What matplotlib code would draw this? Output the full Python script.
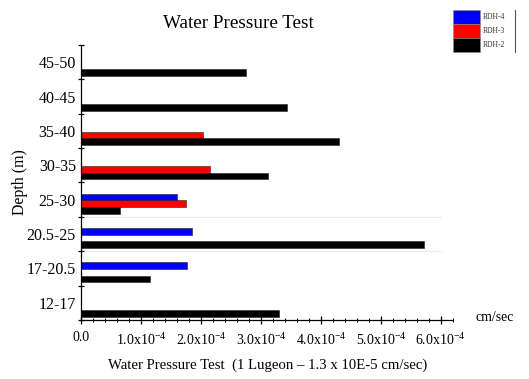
import matplotlib
matplotlib.use("Agg")
import matplotlib.pyplot as plt
from matplotlib.patches import Rectangle
import numpy as np

plt.rcParams['font.family'] = 'Liberation Serif'
plt.rcParams['mathtext.fontset'] = 'custom'
plt.rcParams['mathtext.rm'] = 'Liberation Serif'

# depth intervals, bottom to top
depths = ['12-17', '17-20.5', '20.5-25', '25-30', '30-35', '35-40', '40-45', '45-50']

# permeability (cm/sec), None where the hole was not tested
rdh2 = [3.30e-4, 1.15e-4, 5.72e-4, 0.64e-4, 3.12e-4, 4.30e-4, 3.43e-4, 2.75e-4]
rdh3 = [None, None, None, 1.74e-4, 2.15e-4, 2.03e-4, None, None]
rdh4 = [None, 1.76e-4, 1.85e-4, 1.60e-4, None, None, None, None]

series = [('RDH-4', rdh4, '#0000ff', 0.075),
          ('RDH-3', rdh3, '#ff0000', -0.12),
          ('RDH-2', rdh2, '#000000', -0.31)]

xticks = [0, 1e-4, 2e-4, 3e-4, 4e-4, 5e-4, 6e-4]
xticklabels = ['0.0', '1.0x10$^{-4}$', '2.0x10$^{-4}$', '3.0x10$^{-4}$',
               '4.0x10$^{-4}$', '5.0x10$^{-4}$', '6.0x10$^{-4}$']

fig = plt.figure(figsize=(5.29, 3.79), dpi=100)
ax = fig.add_axes([0.154, 0.156, 0.7017, 0.725])

pos = np.arange(len(depths))
for name, vals, col, off in series:
    for i, v in enumerate(vals):
        if v is None:
            continue
        ax.barh(pos[i] + off, v, height=0.2, color=col, edgecolor='#222222', linewidth=0.4)

# faint scan lines
for yl in [1.5, 2.5]:
    ax.plot([0, 6e-4], [yl, yl], color='#ececec', linewidth=0.8, zorder=0)

ax.set_xlim(0, 6.2e-4)
ax.set_ylim(-0.5, len(depths) - 0.5)

ax.set_xticks(xticks)
ax.set_xticklabels(xticklabels, fontsize=10)
ax.set_xticks(np.arange(0, 6.21e-4, 0.2e-4), minor=True)
ax.tick_params(axis='x', which='major', direction='inout', length=6, width=0.9, pad=5)
ax.tick_params(axis='x', which='minor', direction='inout', length=3, width=0.7)

ax.set_yticks(np.arange(-0.5, len(depths), 1.0))
ax.set_yticklabels([])
ax.set_yticks(pos, minor=True)
ax.set_yticklabels(depths, minor=True, fontsize=11.5)
ax.tick_params(axis='y', which='major', direction='inout', length=5, width=0.9)
ax.tick_params(axis='y', which='minor', length=0, pad=4)

for s in ['top', 'right']:
    ax.spines[s].set_visible(False)
for s in ['left', 'bottom']:
    ax.spines[s].set_linewidth(0.9)

fig.text(0.45, 0.937, 'Water Pressure Test', ha='center', va='center', fontsize=13.8)
fig.text(0.505, 0.035, 'Water Pressure Test  (1 Lugeon \u2013 1.3 x 10E-5 cm/sec)',
         ha='center', va='center', fontsize=10.6)
fig.text(0.038, 0.52, 'Depth (m)', rotation=90, ha='center', va='center', fontsize=11.4)
fig.text(0.898, 0.163, 'cm/sec', ha='left', va='center', fontsize=10)

# legend box, top right
W, H = 529.0, 379.0
x0, y_top, pw, ph = 453, 10, 27, 14
for k, (name, vals, col, off) in enumerate(series):
    yb = y_top + ph * (k + 1)
    fig.patches.append(Rectangle((x0 / W, 1 - yb / H), pw / W, ph / H,
                                 transform=fig.transFigure, facecolor=col,
                                 edgecolor='#888888', linewidth=0.4))
    fig.text((x0 + pw + 3) / W, 1 - (yb - ph / 2) / H, name, fontsize=5.5,
             ha='left', va='center', color='#333333')
fig.lines.append(plt.Line2D([515 / W, 515 / W], [1 - 10 / H, 1 - 52 / H],
                            transform=fig.transFigure, color='#555555', linewidth=0.8))

fig.savefig('out.png', dpi=100)
